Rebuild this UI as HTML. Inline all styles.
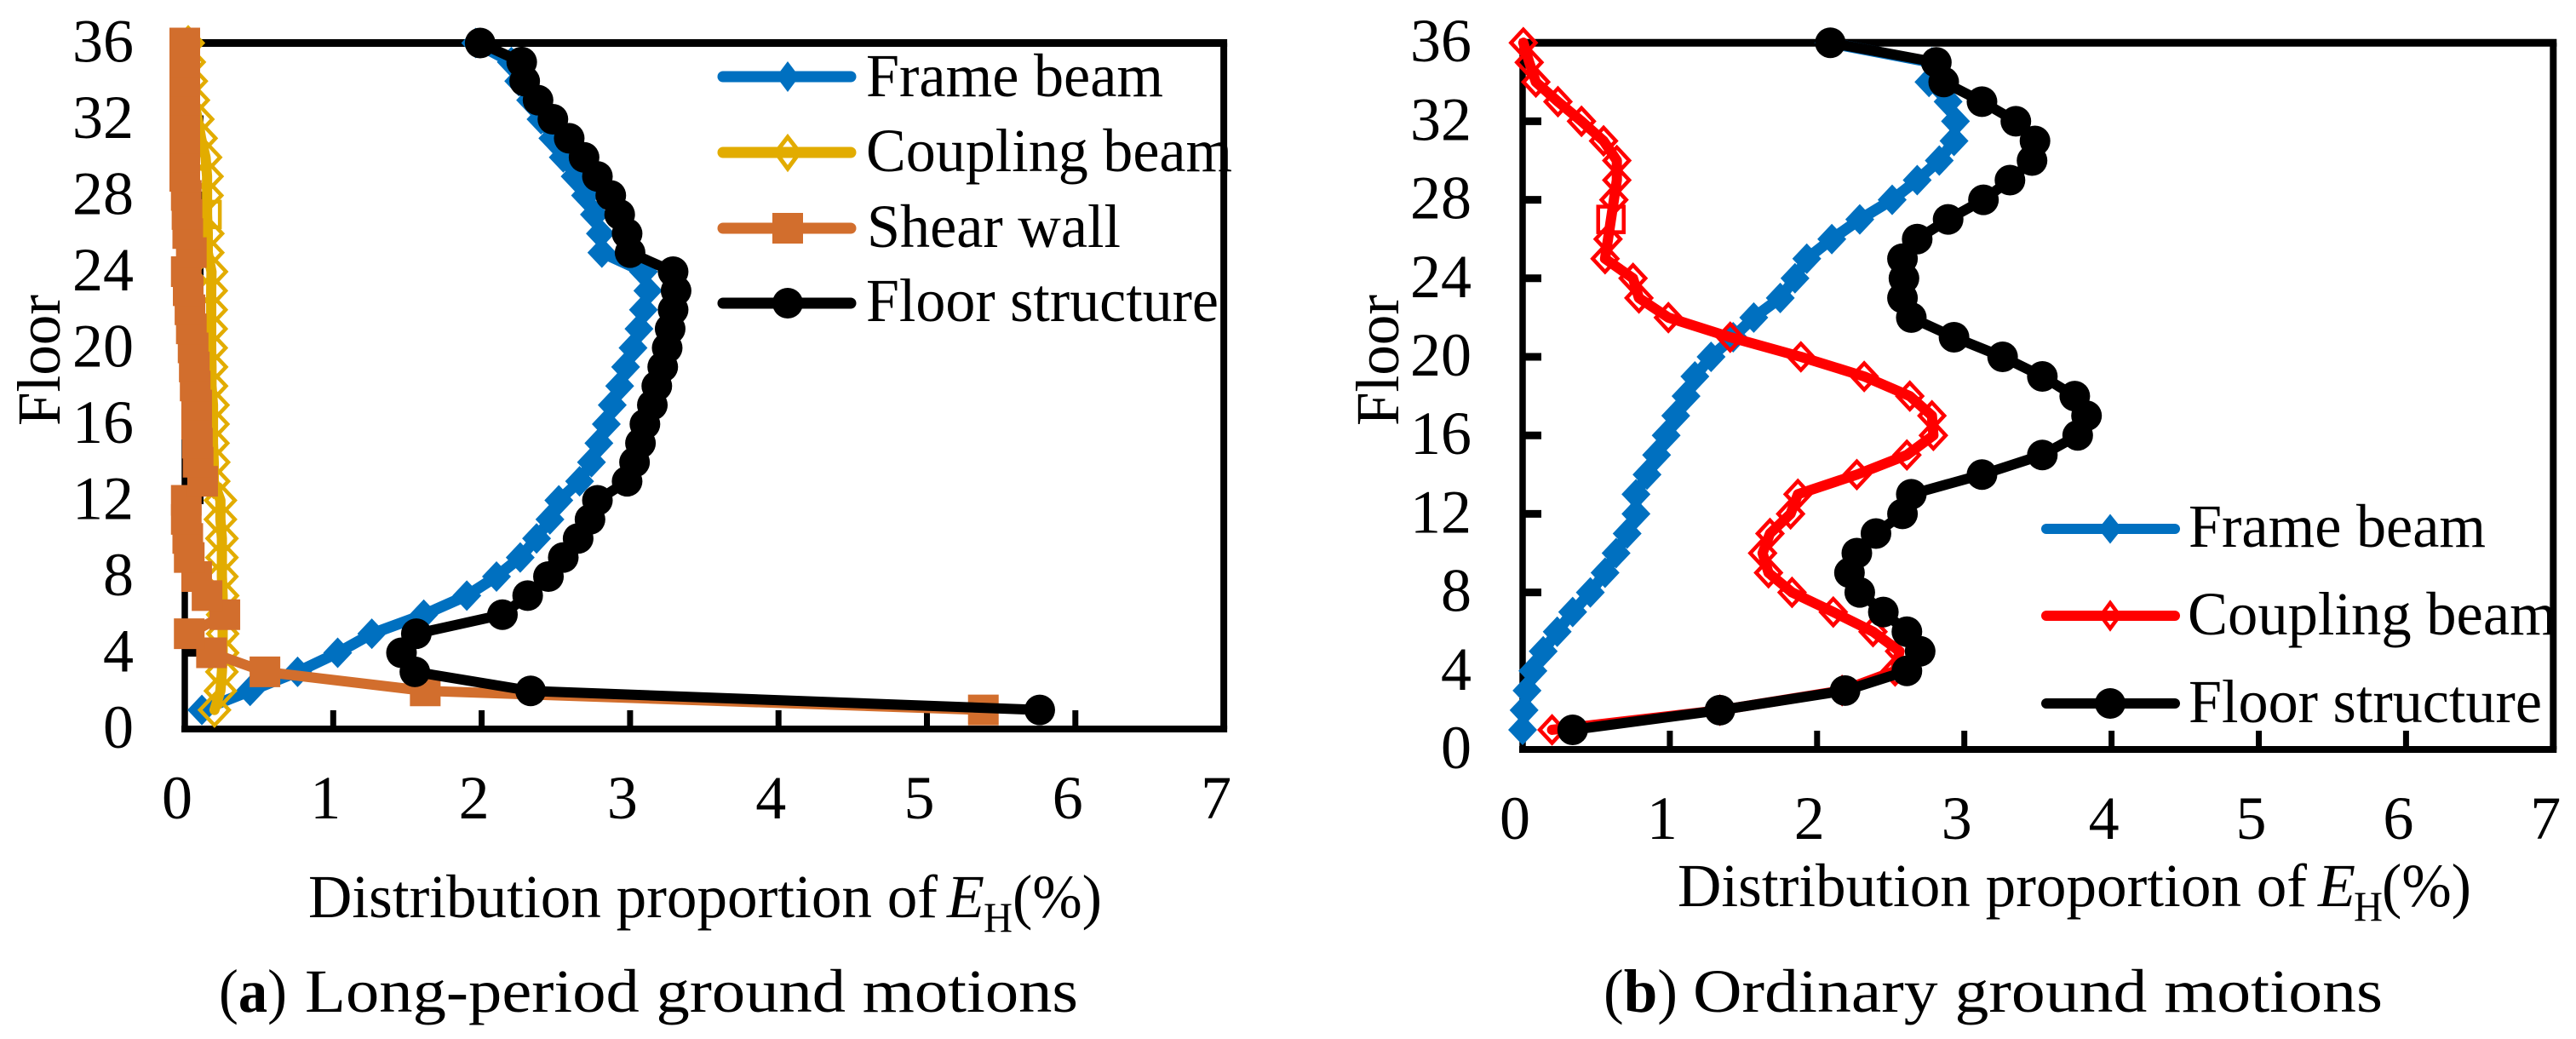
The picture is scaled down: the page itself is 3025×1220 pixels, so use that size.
<!DOCTYPE html>
<html lang="en">
<head>
<meta charset="utf-8">
<title>Distribution proportion of EH by floor</title>
<style>
  html, body { margin: 0; padding: 0; background: #fff; }
  body { width: 3025px; height: 1220px; overflow: hidden; }
  svg { display: block; }
  text { font-family: "Liberation Serif", serif; font-size: 72px; fill: #000; }
</style>
</head>
<body>
<svg id="figure" xmlns="http://www.w3.org/2000/svg" width="3025" height="1220" viewBox="0 0 3025 1220">
  <rect width="3025" height="1220" fill="#fff"/>
  <g id="panelA"></g>
  <g id="panelB"></g>

  <!-- Panel A titles -->
  <text transform="translate(70,500) rotate(-90)" textLength="154" lengthAdjust="spacingAndGlyphs">Floor</text>
  <g>
    <text x="362" y="1077" textLength="739" lengthAdjust="spacingAndGlyphs">Distribution proportion of</text>
    <text x="1112" y="1077" font-style="italic" textLength="44" lengthAdjust="spacingAndGlyphs">E</text>
    <text x="1155" y="1094" style="font-size:50px" textLength="34" lengthAdjust="spacingAndGlyphs">H</text>
    <text x="1189" y="1077" textLength="105" lengthAdjust="spacingAndGlyphs">(%)</text>
  </g>
  <g>
    <text x="257" y="1188" textLength="80" lengthAdjust="spacingAndGlyphs">(<tspan font-weight="bold">a</tspan>)</text>
    <text x="358" y="1188" textLength="908" lengthAdjust="spacingAndGlyphs">Long-period ground motions</text>
  </g>

  <!-- Panel B titles -->
  <text transform="translate(1642,500) rotate(-90)" textLength="154" lengthAdjust="spacingAndGlyphs">Floor</text>
  <g>
    <text x="1970" y="1064" textLength="739" lengthAdjust="spacingAndGlyphs">Distribution proportion of</text>
    <text x="2722" y="1064" font-style="italic" textLength="44" lengthAdjust="spacingAndGlyphs">E</text>
    <text x="2764" y="1081" style="font-size:50px" textLength="34" lengthAdjust="spacingAndGlyphs">H</text>
    <text x="2797" y="1064" textLength="105" lengthAdjust="spacingAndGlyphs">(%)</text>
  </g>
  <g>
    <text x="1883" y="1188" textLength="87" lengthAdjust="spacingAndGlyphs">(<tspan font-weight="bold">b</tspan>)</text>
    <text x="1988" y="1188" textLength="810" lengthAdjust="spacingAndGlyphs">Ordinary ground motions</text>
  </g>

  <!-- Panel A legend -->
  <g>
    <g>
      <line x1="849" y1="90" x2="999" y2="90" stroke="#0070C0" stroke-width="13" stroke-linecap="round"/>
      <polygon points="925,72 938.5,90 925,108 911.5,90" fill="#0070C0"/>
      <text x="1017" y="113" textLength="349" lengthAdjust="spacingAndGlyphs">Frame beam</text>
    </g>
    <g>
      <polygon points="925,161 939,179 925,198 911,179" fill="none" stroke="#E2AC00" stroke-width="5"/>
      <line x1="849" y1="179" x2="999" y2="179" stroke="#E2AC00" stroke-width="13" stroke-linecap="round"/>
      <text x="1017" y="201" textLength="430" lengthAdjust="spacingAndGlyphs">Coupling beam</text>
    </g>
    <g>
      <line x1="849" y1="268" x2="999" y2="268" stroke="#D26E2D" stroke-width="13" stroke-linecap="round"/>
      <rect x="907" y="250" width="36" height="36" fill="#D26E2D"/>
      <text x="1018" y="290" textLength="298" lengthAdjust="spacingAndGlyphs">Shear wall</text>
    </g>
    <g>
      <line x1="849" y1="356" x2="999" y2="356" stroke="#000" stroke-width="13" stroke-linecap="round"/>
      <circle cx="925" cy="356" r="18" fill="#000"/>
      <text x="1017" y="377" textLength="414" lengthAdjust="spacingAndGlyphs">Floor structure</text>
    </g>
  </g>

  <!-- Panel B legend -->
  <g>
    <g>
      <line x1="2403" y1="621" x2="2554" y2="621" stroke="#0070C0" stroke-width="12" stroke-linecap="round"/>
      <polygon points="2478,603.5 2492,621 2478,638.5 2464,621" fill="#0070C0"/>
      <text x="2570" y="642" textLength="349" lengthAdjust="spacingAndGlyphs">Frame beam</text>
    </g>
    <g>
      <polygon points="2478,708 2489,723 2478,738 2467,723" fill="none" stroke="#FF0000" stroke-width="4.5"/>
      <line x1="2403" y1="723" x2="2554" y2="723" stroke="#FF0000" stroke-width="12" stroke-linecap="round"/>
      <text x="2569" y="745" textLength="433" lengthAdjust="spacingAndGlyphs">Coupling beam</text>
    </g>
    <g>
      <line x1="2403" y1="826" x2="2554" y2="826" stroke="#000" stroke-width="12" stroke-linecap="round"/>
      <circle cx="2478" cy="826" r="18" fill="#000"/>
      <text x="2570" y="848" textLength="415" lengthAdjust="spacingAndGlyphs">Floor structure</text>
    </g>
  </g>
</svg>

<script>
// Shared categories and tick labels
const floors = [1,2,3,4,5,6,7,8,9,10,11,12,13,14,15,16,17,18,19,20,21,22,23,24,25,26,27,28,29,30,31,32,33,34,35,36];
const xTickLabels = [0,1,2,3,4,5,6,7];
const yTickLabels = [0,4,8,12,16,20,24,28,32,36];

// Panel (a) long-period ground motions: values listed from floor 1 to floor 36
const frameBeamA = [0.115,0.44,0.76,1.03,1.26,1.61,1.90,2.10,2.26,2.37,2.46,2.52,2.66,2.74,2.79,2.84,2.88,2.93,2.97,3.02,3.06,3.09,3.12,3.09,2.81,2.80,2.76,2.70,2.63,2.55,2.48,2.40,2.33,2.25,2.20,1.96];
const couplingBeamA = [0.20,0.24,0.25,0.255,0.255,0.255,0.255,0.25,0.25,0.25,0.24,0.24,0.195,0.195,0.19,0.19,0.19,0.18,0.18,0.178,0.178,0.178,0.178,0.18,0.155,0.155,0.15,0.15,0.15,0.14,0.11,0.088,0.058,0.044,0.03,0.023];
const shearWallA = [5.38,1.62,0.54,0.18,0.03,0.27,0.15,0.08,0.03,0.02,0.01,0.01,0.12,0.09,0.085,0.08,0.08,0.07,0.064,0.056,0.044,0.035,0.023,0.01,0.044,0.02,0.015,0.01,0,0,0,0,0,0,0,0];
const floorStructureA = [5.76,2.33,1.55,1.46,1.56,2.14,2.31,2.45,2.55,2.65,2.73,2.78,2.98,3.03,3.07,3.10,3.15,3.18,3.22,3.25,3.27,3.29,3.31,3.29,3.00,2.98,2.93,2.87,2.78,2.69,2.59,2.48,2.38,2.29,2.27,1.99];

// Panel (b) ordinary ground motions: values listed from floor 1 to floor 36
const frameBeamB = [0,0.01,0.03,0.07,0.14,0.235,0.34,0.46,0.56,0.635,0.71,0.77,0.77,0.845,0.91,0.975,1.04,1.11,1.17,1.28,1.43,1.57,1.75,1.85,1.93,2.10,2.29,2.51,2.68,2.83,2.93,2.94,2.89,2.76,2.78,2.08];
const couplingBeamB = [0.20,1.34,2.17,2.53,2.56,2.38,2.11,1.83,1.67,1.63,1.68,1.82,1.87,2.27,2.61,2.79,2.78,2.63,2.32,1.89,1.41,0.99,0.79,0.75,0.56,0.58,0.60,0.62,0.64,0.64,0.55,0.40,0.24,0.09,0.045,0.005];
const floorStructureB = [0.34,1.34,2.19,2.61,2.70,2.61,2.45,2.29,2.22,2.27,2.40,2.58,2.64,3.12,3.53,3.77,3.83,3.75,3.53,3.26,2.93,2.64,2.58,2.59,2.58,2.68,2.89,3.13,3.31,3.46,3.48,3.35,3.12,2.86,2.81,2.09];

// Axis functions
function xA(v) { return 217 + 174.3 * v; }
function yA(f) { return 856 - 22.375 * f; }
function xB(v) { return 1788 + 172.9 * v; }
function yB(f) { return 880 - 23.05 * f; }

const SVGNS = 'http://www.w3.org/2000/svg';

function make(parent, tag, props) {
  const el = document.createElementNS(SVGNS, tag);
  for (const k in props) el.setAttribute(k, props[k]);
  parent.appendChild(el);
  return el;
}

function drawAxes(parent, x, y, labelBaseline, yLabelRight) {
  const left = x(0), right = x(7), top = y(36), bottom = y(0);
  const frame = make(parent, 'g', {});
  
  
  make(frame, 'line', { x1: left - 4, y1: top, x2: right + 4, y2: top, stroke: '#000', 'stroke-width': 9 });
  make(frame, 'line', { x1: left - 4, y1: bottom, x2: right + 4, y2: bottom, stroke: '#000', 'stroke-width': 8 });
  make(frame, 'line', { x1: left, y1: top, x2: left, y2: bottom, stroke: '#000', 'stroke-width': 7.5 });
  make(frame, 'line', { x1: right, y1: top, x2: right, y2: bottom, stroke: '#000', 'stroke-width': 8 });

  xTickLabels.forEach(function (v) {
    if (v > 0 && v < 7) {
      const tick = make(parent, 'line', { x1: x(v), y1: bottom - 22, x2: x(v), y2: bottom, stroke: '#000', 'stroke-width': 7 });
      
      
    }
    const label = make(parent, 'text', { x: x(v) - 9, y: labelBaseline, 'text-anchor': 'middle' });
    label.textContent = String(v);
    
    
  });

  yTickLabels.forEach(function (f) {
    if (f > 0 && f < 36) {
      const tick = make(parent, 'line', { x1: left, y1: y(f), x2: left + 22, y2: y(f), stroke: '#000', 'stroke-width': 9 });
      
      
    }
    const label = make(parent, 'text', { x: yLabelRight, y: y(f) + 22, 'text-anchor': 'end' });
    label.textContent = String(f);
    
    
  });
}

function drawSeries(parent, seriesName, values, x, y, color, shape, size, lineWidth) {
  const group = make(parent, 'g', {});
  
  

  const pts = values.map(function (v, i) { return x(v) + ',' + y(floors[i]); }).join(' ');
  const line = make(group, 'polyline', { points: pts, fill: 'none', stroke: color, 'stroke-width': lineWidth, 'stroke-linejoin': 'round', 'stroke-linecap': 'round' });
  
  

  values.forEach(function (v, i) {
    const cx = x(v), cy = y(floors[i]);
    let m;
    if (shape === 'circle') {
      m = make(group, 'circle', { cx: cx, cy: cy, r: size.w / 2, fill: color });
    } else if (shape === 'square') {
      m = make(group, 'rect', { x: cx - size.w / 2, y: cy - size.h / 2, width: size.w, height: size.h, fill: color });
    } else if (shape === 'diamond') {
      m = make(group, 'polygon', { points: cx + ',' + (cy - size.h / 2) + ' ' + (cx + size.w / 2) + ',' + cy + ' ' + cx + ',' + (cy + size.h / 2) + ' ' + (cx - size.w / 2) + ',' + cy, fill: color });
    } else if (floors[i] === 27) {
      m = make(group, 'rect', { x: cx - 15, y: cy - 15, width: 30, height: 30, fill: 'none', stroke: color, 'stroke-width': 4.5 });
    } else {
      m = make(group, 'polygon', { points: cx + ',' + (cy - size.h / 2) + ' ' + (cx + size.w / 2) + ',' + cy + ' ' + cx + ',' + (cy + size.h / 2) + ' ' + (cx - size.w / 2) + ',' + cy, fill: 'none', stroke: color, 'stroke-width': 4.5 });
    }
    
    
  });
}

const panelA = document.getElementById('panelA');
const panelB = document.getElementById('panelB');

drawAxes(panelA, xA, yA, 961, 157);
drawSeries(panelA, 'series-frame-beam', frameBeamA, xA, yA, '#0070C0', 'diamond', { w: 34, h: 36 }, 13);
drawSeries(panelA, 'series-coupling-beam', couplingBeamA, xA, yA, '#E2AC00', 'hollow', { w: 34, h: 36 }, 12);
drawSeries(panelA, 'series-shear-wall', shearWallA, xA, yA, '#D26E2D', 'square', { w: 36, h: 36 }, 12);
drawSeries(panelA, 'series-floor-structure', floorStructureA, xA, yA, '#000000', 'circle', { w: 36, h: 36 }, 12);

drawAxes(panelB, xB, yB, 985, 1728);
drawSeries(panelB, 'series-frame-beam', frameBeamB, xB, yB, '#0070C0', 'diamond', { w: 34, h: 36 }, 13);
drawSeries(panelB, 'series-coupling-beam', couplingBeamB, xB, yB, '#FF0000', 'hollow', { w: 29, h: 31 }, 12);
drawSeries(panelB, 'series-floor-structure', floorStructureB, xB, yB, '#000000', 'circle', { w: 36, h: 36 }, 12);
</script>
</body>
</html>
